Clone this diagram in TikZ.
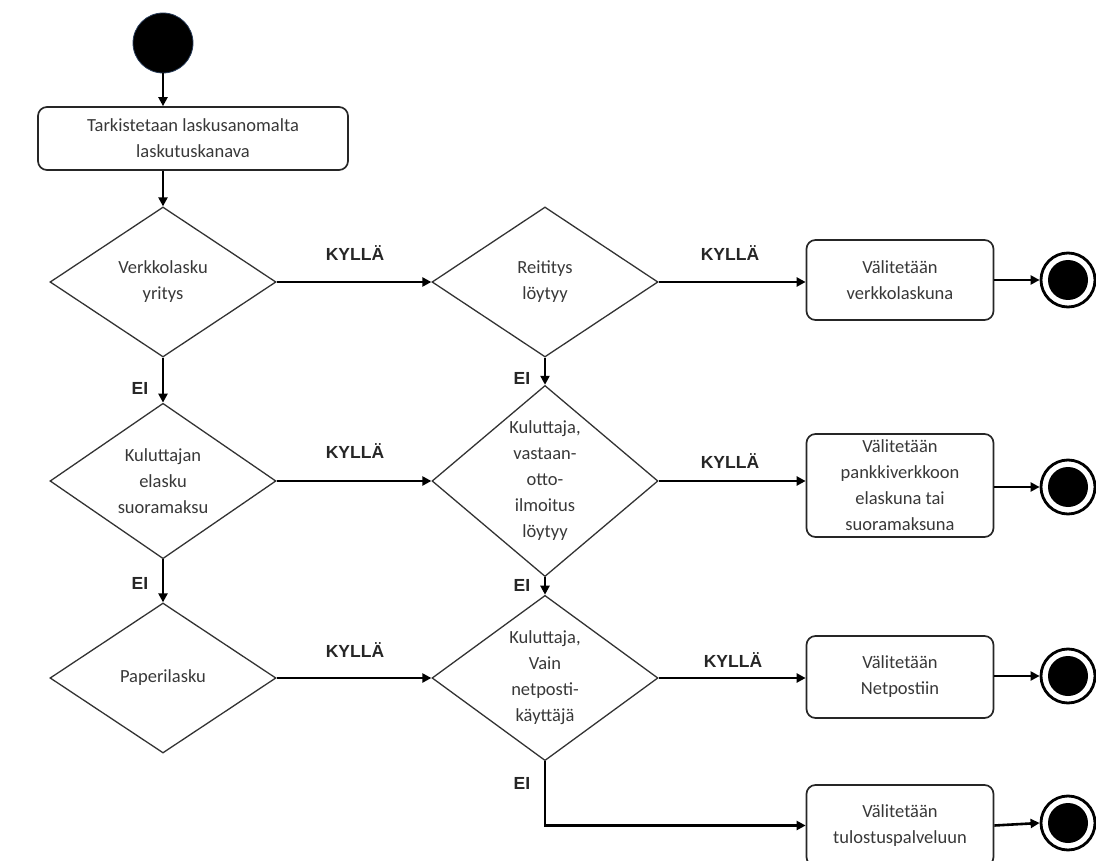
\documentclass[tikz,border=0pt]{standalone}
\usepackage{fontspec}
\setmainfont{Carlito}
\newfontfamily\labfont{Liberation Sans}
\usetikzlibrary{arrows.meta,shapes.geometric}
\begin{document}
\begin{tikzpicture}[x=1pt,y=-1pt,
  txt/.style={text=black!78,font=\fontsize{18.5}{26}\selectfont,align=center},
  dec/.style={diamond,draw=black!80,line width=1.3pt,minimum width=226pt,minimum height=150pt,inner sep=0pt,txt},
  act/.style={rectangle,rounded corners=9pt,draw=black!85,line width=1.7pt,minimum width=187pt,inner sep=2pt,txt},
  flow/.style={line width=2.6pt,-{Triangle[length=9pt,width=9pt]}},
  lab/.style={font=\labfont\bfseries\fontsize{17.5}{20}\selectfont,text=black!85},
  startnode/.style={circle,fill=black,draw={rgb,255:red,40;green,60;blue,90},line width=0.8pt,minimum size=60pt,inner sep=0pt},
  endnode/.style={circle,draw=black,line width=2.8pt,minimum size=54pt,inner sep=0pt,
    path picture={\fill[black] (path picture bounding box.center) circle (20pt);}}]
\useasboundingbox (0,0) rectangle (1096,861);
\begin{scope}
\clip (0,0) rectangle (1096,861);
% start
\node[startnode] (s) at (163,43) {};
\node[act,minimum width=310pt,minimum height=63pt] (b1) at (193,138.5) {Tarkistetaan laskusanomalta\\laskutuskanava};
% diamonds
\node[dec] (d1) at (163,282) {Verkkolasku\\yritys};
\node[dec] (d2) at (545,282) {Reititys\\löytyy};
\node[dec] (d3) at (163,481) {Kuluttajan\\elasku\\suoramaksu};
\node[dec] (d4) at (545,481) {Kuluttaja,\\vastaan-\\otto-\\ilmoitus\\löytyy};
\node[dec] (d5) at (163,678) {Paperilasku};
\node[dec] (d6) at (545,678) {Kuluttaja,\\Vain\\netposti-\\käyttäjä};
% actions
\node[act,minimum height=80pt] (v1) at (900,280) {Välitetään\\verkkolaskuna};
\node[act,minimum height=103pt] (v2) at (900,485.5) {Välitetään\\pankkiverkkoon\\elaskuna tai\\suoramaksuna};
\node[act,minimum height=82pt] (v3) at (900,677) {Välitetään\\Netpostiin};
\node[act,minimum height=81pt] (v4) at (900,825.5) {Välitetään\\tulostuspalveluun};
% ends
\node[endnode] (e1) at (1068,280) {};
\node[endnode] (e2) at (1068,487) {};
\node[endnode] (e3) at (1068,676) {};
\node[endnode] (e4) at (1068,823) {};
% flows
\draw[flow] (s.south) -- (s.south |- b1.north);
\draw[flow] (s.south |- b1.south) -- (d1.north);
\draw[flow] (d1.south) -- (d3.north);
\draw[flow] (d3.south) -- (d5.north);
\draw[flow] (d2.south) -- (d4.north);
\draw[flow] (d4.south) -- (d6.north);
\draw[flow] (d1.east) -- (d2.west);
\draw[flow] (d3.east) -- (d4.west);
\draw[flow] (d5.east) -- (d6.west);
\draw[flow] (d2.east) -- (d2.east -| v1.west);
\draw[flow] (d4.east) -- (d4.east -| v2.west);
\draw[flow] (d6.east) -- (d6.east -| v3.west);
\draw[flow] (d6.south) |- (v4.west);
\draw[flow] (v1.east) -- (e1.west);
\draw[flow] (v2.east |- e2) -- (e2.west);
\draw[flow] (v3.east |- e3) -- (e3.west);
\draw[flow] (v4.east) -- (e4.west);
% labels
\node[lab] (k1) at (355,253) {KYLLÄ};
\node[lab] (k2) at (730,253) {KYLLÄ};
\node[lab] (k3) at (355,451) {KYLLÄ};
\node[lab] (k4) at (730,461) {KYLLÄ};
\node[lab] (k5) at (355,650) {KYLLÄ};
\node[lab] (k6) at (733,660) {KYLLÄ};
\node[lab] (n1) at (140,388) {EI};
\node[lab] (n2) at (522,378) {EI};
\node[lab] (n3) at (140,583) {EI};
\node[lab] (n4) at (522,585) {EI};
\node[lab] (n5) at (522,783) {EI};
\end{scope}
\end{tikzpicture}
\end{document}
